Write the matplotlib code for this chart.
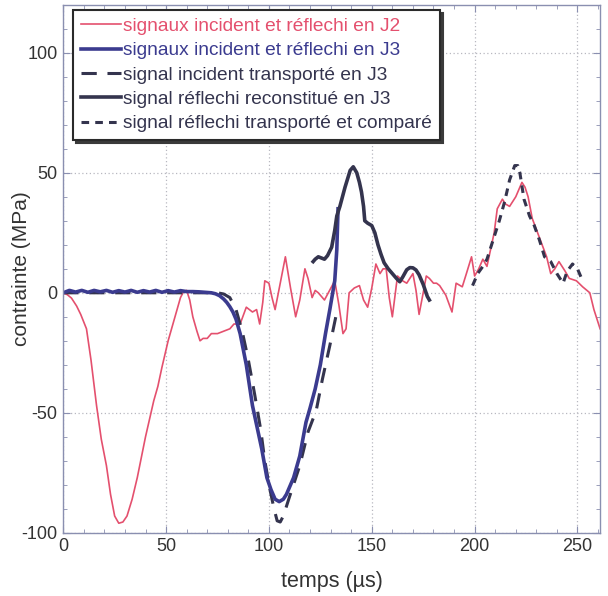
import matplotlib
matplotlib.use("Agg")
import matplotlib.pyplot as plt
from matplotlib.ticker import MultipleLocator

plt.rcParams['font.family'] = ['Liberation Sans', 'DejaVu Sans']
plt.rcParams['axes.unicode_minus'] = False

# Incident and reflected signals at gauge J2 (time in µs, stress in MPa)
t_j2 = [0, 2, 4, 6.5, 8.5, 11.3, 13.5, 16.2, 18.5, 21,
        23, 25, 27, 29, 31, 33.5, 36, 40, 44, 46,
        48, 51, 54, 57, 58.5, 60, 61.5, 63, 65, 66.5,
        68, 70, 72, 75, 78, 81, 83, 86, 89, 92,
        94, 95.5, 97, 98, 100, 101.5, 103, 105.5, 108, 110.5,
        113, 115, 117.5, 119, 121, 122.5, 124, 127, 129.5, 132,
        134, 136, 137.5, 139, 141.5, 144, 146, 148, 150, 152,
        154, 155.5, 157, 158.5, 160, 162.5, 165, 167, 170, 171.5,
        173, 175, 176.5, 178, 180, 181.5, 183, 186, 189, 191,
        194, 196, 198.5, 200, 202, 204, 206, 208, 209.5, 211,
        213.5, 215, 217, 220, 223, 224.5, 226, 228, 231.5, 235,
        237, 239, 241, 242.5, 244, 246, 249.5, 252.5, 256, 258,
        261]
v_j2 = [0, -0.8, -2.2, -5.5, -9, -15, -28, -47, -61, -72,
        -84, -93, -96, -95.5, -93, -86, -77, -60, -45, -39,
        -31, -20, -11, -2, 0.5, 1, -3, -10, -16, -20,
        -19, -19, -17, -17, -16, -15, -13, -13, -6, -8,
        -7, -13, -4, 5, 4, -2, -7, 4, 15, 2,
        -10, -3, 10, 6, -2, 1, 0, -3, 1, 5,
        -5, -17, -15, 0, 2, 3, -3, -6, 2, 12,
        8, 10, 10, -2, -10, 7, 5, 4, 8, 1,
        -9, 0, 7, 6, 4, 4, 3, -1, -8, 4,
        2.5, 8, 15, 7, 10, 14, 11, 19, 25, 35,
        39, 37, 36, 40, 46, 44, 40, 31, 23, 15,
        8, 10, 13, 11, 9, 6, 5, 2.5, 0, -7,
        -15]

# Incident and reflected signals at gauge J3
t_j3 = [0, 3, 6, 9, 12, 15, 18, 21, 24, 27, 30, 33, 36, 39, 42, 45, 48, 51, 54,
        57, 60, 63, 66, 69, 72,
        74, 76, 78, 79.5, 81, 82.5, 84, 86, 89, 92, 94,
        96.5, 99, 101, 103, 105, 107, 108.5, 110, 112, 115,
        118, 120, 122.5, 125, 127.5, 129.6, 131, 132, 133, 133.6]
v_j3 = [0, 1, 0.3, 1, 0.2, 1, 0.4, 1, 0.2, 0.9, 0.3, 1, 0.2, 0.9, 0.3, 1, 0.2, 0.9,
        0.3, 0.9, 0.5, 0.5, 0.4, 0.2, 0,
        -0.4, -1.2, -2.6, -4, -5.8, -8, -11, -17, -30, -47, -55,
        -65, -77, -82, -86, -87, -86, -84, -81, -77, -68,
        -54, -48, -40, -30, -17, -7, 0, 5, 18, 35]

# Incident signal transported to J3
t_inc = [0, 20, 40, 60, 75, 78, 81, 84, 87, 90, 93, 96, 98, 100.5, 102.5, 104,
         105.5, 107, 110, 115, 119, 123, 126, 129.6, 133]
v_inc = [0, 0, 0, 0, 0, -0.5, -2, -7, -16, -28, -42, -57, -70, -82, -90, -95,
         -95.5, -93, -85, -72, -58, -49, -36, -22, -8]

# Reflected signal reconstructed at J3
t_rec = [121.5, 122.5, 124, 125.5, 127, 128.5, 130.5, 132, 133, 134.5,
         137, 139.5, 141, 142.7, 144, 145, 146, 146.6, 148, 150,
         151.5, 153, 154.5, 156, 158, 160, 162, 163.6, 165, 167,
         168.5, 170, 171.5, 173, 175, 177, 178]
v_rec = [13, 14, 15, 14.5, 14, 15.5, 19, 26, 32, 36,
         44, 51, 52.5, 50, 46, 42, 36, 30, 29, 28,
         25, 20, 16, 12.5, 10, 8, 6, 4.6, 6.5, 9.6,
         10.5, 10.4, 9.5, 7.5, 3.5, -1.5, -3]

# Reflected signal transported and compared
t_cmp = [199, 201.5, 204, 206, 209, 212, 214.6, 217, 219.5, 221, 222, 224,
         226.7, 229, 231.5, 234, 237, 240, 243, 245, 247.6, 250, 252.5]
v_cmp = [3, 8, 11, 14, 22, 30, 38, 47, 53, 53, 50, 39,
         32, 28, 22, 15, 13, 8, 4, 9, 12, 10, 5]

labels = ["signaux incident et réflechi en J2",
          "signaux incident et réflechi en J3",
          "signal incident transporté en J3",
          "signal réflechi reconstitué en J3",
          "signal réflechi transporté et comparé"]

red = '#e4506e'
navy = '#3b3b8f'
dark = '#34344e'

fig = plt.figure(figsize=(6.08, 5.96), dpi=100)
ax = fig.add_axes([0.104, 0.106, 0.883, 0.886])

l1, = ax.plot(t_j2, v_j2, color=red, lw=1.2)
l3, = ax.plot(t_inc, v_inc, color=dark, lw=2.2, dashes=(5, 3.5))
l2, = ax.plot(t_j3, v_j3, color=navy, lw=2.6)
l4, = ax.plot(t_rec, v_rec, color=dark, lw=2.6)
l5, = ax.plot(t_cmp, v_cmp, color=dark, lw=2.2, dashes=(2.5, 2))

ax.set_xlim(0, 261)
ax.set_ylim(-100, 120)
ax.xaxis.set_major_locator(MultipleLocator(50))
ax.xaxis.set_minor_locator(MultipleLocator(10))
ax.yaxis.set_major_locator(MultipleLocator(50))
ax.yaxis.set_minor_locator(MultipleLocator(10))
ax.tick_params(which='both', direction='in', top=True, right=True,
               color='#8a8fb0', labelsize=13, labelcolor='#333333')
ax.tick_params(which='major', length=5, pad=4)
ax.tick_params(which='minor', length=3)
ax.grid(True, which='major', color='#b8b8c0', linestyle=(0, (1, 2)), lw=0.9)
for s in ax.spines.values():
    s.set_color('#8a8fb0')
    s.set_linewidth(1.0)

ax.set_xlabel('temps (µs)', fontsize=15.5, color='#333333')
ax.set_ylabel('contrainte (MPa)', fontsize=15, color='#333333')
ax.xaxis.set_label_coords(0.5, -0.072)
ax.yaxis.set_label_coords(-0.06, 0.5)

leg = ax.legend([l1, l2, l3, l4, l5], labels, loc='upper left',
                bbox_to_anchor=(0.019, 0.99), borderaxespad=0,
                fontsize=13.8, handlelength=2.1, handletextpad=0.1,
                labelspacing=0.36, borderpad=0.4, fancybox=False,
                framealpha=1, edgecolor='#2a2a2a',
                shadow={'color': '#3a3a3a', 'alpha': 1},
                labelcolor=[red, navy, dark, dark, dark])
leg.get_frame().set_linewidth(1.5)

fig.savefig('out.png', dpi=100)
